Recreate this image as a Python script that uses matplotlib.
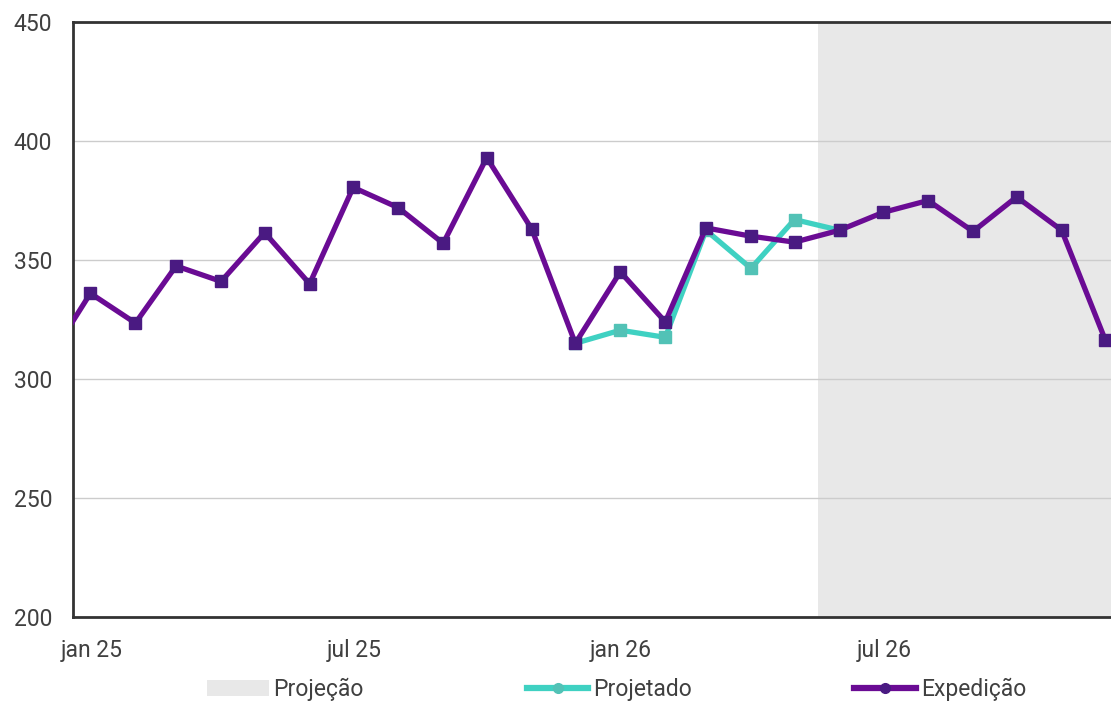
import pandas as pd
import matplotlib.pyplot as plt
from matplotlib.lines import Line2D
from matplotlib.patches import Patch

plt.rcParams['font.family'] = ['Roboto', 'DejaVu Sans']

# monthly values (thousand units), dez/24 .. dez/26
meses = pd.date_range('2024-12-01', periods=25, freq='MS') + pd.Timedelta(days=12)
expedicao = [306, 336, 323.5, 347.5, 341, 361.5, 340, 380.5, 372, 357, 393, 363,
             315, 345, 324, 363.5, 360, 357.5, 362.5, 370, 375, 362, 376.5, 362.5, 316.5]

meses_proj = meses[12:19]
projetado = [315, 320.5, 317.5, 362.5, 346.5, 367, 362.5]

inicio_projecao = pd.Timestamp('2026-05-29')
fim_eixo = pd.Timestamp('2026-12-17')

roxo = '#6a0b94'
roxo_marker = '#4a1a82'
verde = '#3fd1c2'
verde_marker = '#52c2b6'
texto = '#404040'

fig = plt.figure(figsize=(11.11, 7.02), dpi=100)
ax = fig.add_axes([73 / 1111, 85 / 702, 1038 / 1111, 595 / 702])

ax.axvspan(inicio_projecao, fim_eixo + pd.Timedelta(days=10), color='#e8e8e8', lw=0, zorder=0)

ax.plot(meses_proj, projetado, color=verde, lw=3.8, marker='s', ms=8,
        mfc=verde_marker, mec=verde_marker, zorder=3)
ax.plot(meses, expedicao, color=roxo, lw=3.8, marker='s', ms=8,
        mfc=roxo_marker, mec=roxo_marker, zorder=4)

ax.set_xlim(pd.Timestamp('2025-01-01'), fim_eixo)
ax.set_ylim(200, 450)
ax.set_yticks(range(200, 451, 50))
ax.yaxis.grid(True, color='#cccccc', lw=1)
ax.set_axisbelow(True)

ticks = [pd.Timestamp('2025-01-14'), pd.Timestamp('2025-07-14'),
         pd.Timestamp('2026-01-13'), pd.Timestamp('2026-07-14')]
ax.set_xticks(ticks)
ax.set_xticklabels(['jan 25', 'jul 25', 'jan 26', 'jul 26'])

ax.tick_params(axis='both', length=0, labelsize=16.5, labelcolor=texto)
ax.tick_params(axis='y', pad=15)
ax.tick_params(axis='x', pad=16)

for lado in ['left', 'bottom', 'top']:
    ax.spines[lado].set_color('#333333')
    ax.spines[lado].set_linewidth(2)
ax.spines['right'].set_visible(False)

handles = [
    Patch(facecolor='#e8e8e8', edgecolor='none'),
    Line2D([], [], color=verde, lw=4.5, marker='o', ms=7, mfc=verde_marker, mec=verde_marker),
    Line2D([], [], color=roxo, lw=4.5, marker='o', ms=7, mfc=roxo_marker, mec=roxo_marker),
]
fig.legend(handles, ['Projeção', 'Projetado', 'Expedição'], loc='lower center',
           bbox_to_anchor=(0.555, -0.028), ncol=3, frameon=False, fontsize=16.5,
           labelcolor=texto, handlelength=2.7, handletextpad=0.2, columnspacing=7.1)

fig.savefig('out.png', dpi=100)
